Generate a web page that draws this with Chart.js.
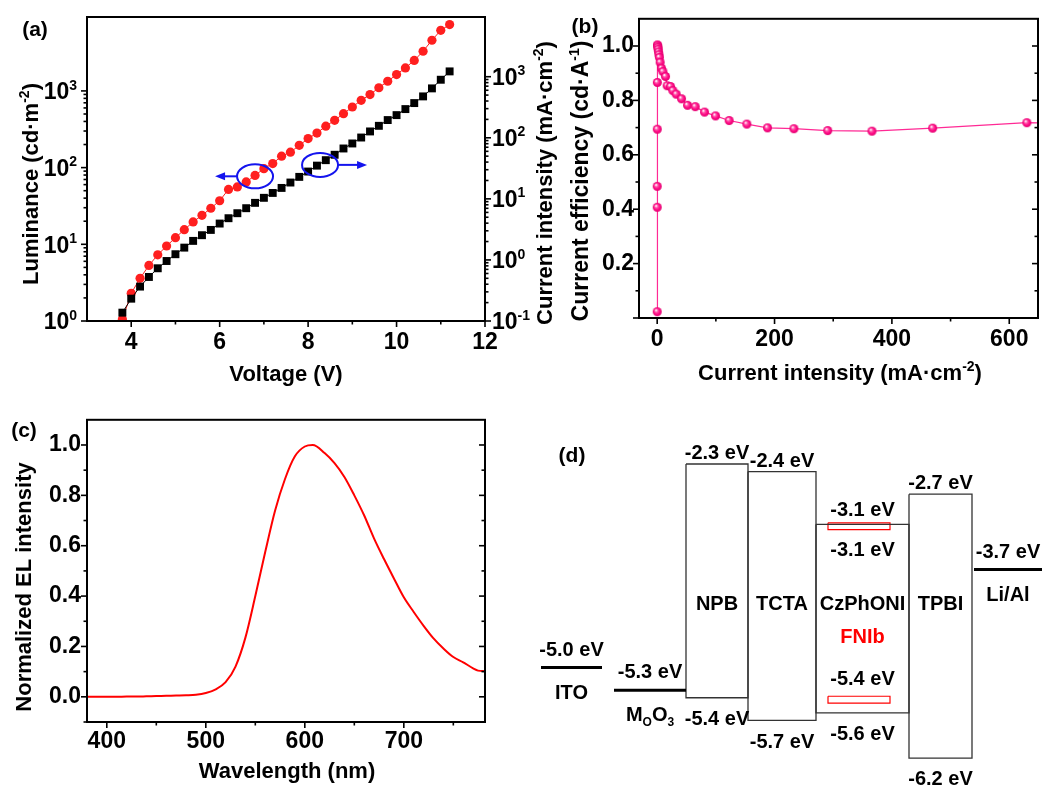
<!DOCTYPE html>
<html lang="en">
<head>
<meta charset="UTF-8">
<title>Device characteristics</title>
<script src="https://cdn.jsdelivr.net/npm/chart.js"></script>
<style>
  body { margin: 0; background: #fff; }
  #page { position: relative; width: 1042px; height: 787px; overflow: hidden; background: #fff; }
  canvas { position: absolute; }
</style>
</head>
<body>
<div id="page">
  <canvas id="chartA" width="565" height="400" style="left:0;top:0"></canvas>
  <canvas id="chartB" width="482" height="400" style="left:560px;top:0"></canvas>
  <canvas id="chartC" width="520" height="387" style="left:0;top:400px"></canvas>
  <canvas id="chartD" width="522" height="387" style="left:520px;top:400px"></canvas>
</div>
<script>
// (a) luminance / current density vs voltage
const voltage = [3.8, 4.0, 4.2, 4.4, 4.6, 4.8, 5.0, 5.2, 5.4, 5.6, 5.8, 6.0, 6.2, 6.4, 6.6, 6.8, 7.0, 7.2, 7.4,
  7.6, 7.8, 8.0, 8.2, 8.4, 8.6, 8.8, 9.0, 9.2, 9.4, 9.6, 9.8, 10.0, 10.2, 10.4, 10.6, 10.8, 11.0, 11.2];
const luminance = [1.05, 2.3, 3.6, 5.3, 7.3, 9.5, 12.2, 15.5, 19.6, 23.9, 29.5, 37, 52, 56, 65, 79, 97, 113, 141,
  159, 195, 239, 282, 347, 414, 505, 617, 755, 896, 1100, 1336, 1633, 1997, 2500, 3290, 4580, 6170, 7330];
const currentDensity = [0.137, 0.232, 0.366, 0.526, 0.73, 0.96, 1.24, 1.59, 2.05, 2.54, 3.1, 3.94, 4.82, 5.82, 7.03,
  8.6, 10.4, 12.5, 15.1, 18.5, 22.9, 28, 35, 43, 52.7, 66.8, 80.7, 101, 127, 157, 195, 235, 295, 370, 476, 644, 892, 1222];

// (b) current efficiency vs current density
const ceCurrent = [0.02, 0.05, 0.08, 0.15, 0.3, 0.5, 0.8, 1.2, 1.7, 2.3, 3.0, 3.8, 5.1, 7.4, 9.7, 14.2, 17, 22.7,
  26.7, 32.4, 41.5, 51.7, 64.8, 80.7, 99.4, 122.7, 152.8, 188, 233, 290.6, 366, 469.5, 630, 800];
const ceEfficiency = [0.023, 0.407, 0.484, 0.694, 0.866, 1.004, 1.0, 0.995, 0.988, 0.978, 0.968, 0.958, 0.940, 0.918,
  0.906, 0.888, 0.854, 0.851, 0.836, 0.823, 0.806, 0.782, 0.777, 0.757, 0.743, 0.726, 0.713, 0.699, 0.696, 0.689,
  0.687, 0.698, 0.718, 0.715];

// (c) EL spectrum
const wavelength = [380, 390, 400, 410, 420, 430, 440, 450, 460, 470, 480, 490, 500, 510, 520, 530, 540, 550, 560,
  570, 580, 590, 600, 608, 620, 630, 640, 650, 660, 670, 680, 690, 700, 710, 720, 730, 740, 750, 760, 770, 775, 782];
const elIntensity = [0, 0, 0, 0, 0.001, 0.001, 0.002, 0.003, 0.004, 0.005, 0.006, 0.008, 0.015, 0.03, 0.058, 0.12,
  0.235, 0.40, 0.575, 0.74, 0.865, 0.955, 0.994, 1.0, 0.968, 0.928, 0.873, 0.80, 0.72, 0.628, 0.547, 0.47, 0.395,
  0.337, 0.282, 0.232, 0.192, 0.158, 0.137, 0.113, 0.104, 0.102];

// (d) energy levels (eV)
const layerNames = ['ITO', 'M_{O}O_{3}', 'NPB', 'TCTA', 'CzPhONI', 'TPBI', 'Li/Al'];
const lumoLevels = [-5.0, -5.3, -2.3, -2.4, -3.1, -2.7, -3.7];
const homoLevels = [-5.0, -5.3, -5.4, -5.7, -5.6, -6.2, -3.7];
const dopantName = 'FNIb';
const dopantLevels = [-3.1, -5.4];

// tick values
const xTicksA = [4, 6, 8, 10, 12], xMinorA = [5, 7, 9, 11];
const yTicksAL = [1, 10, 100, 1000];
const yTicksAR = [0.1, 1, 10, 100, 1000];
const xTicksB = [0, 200, 400, 600], xMinorB = [100, 300, 500];
const yTicksB = [0, 0.2, 0.4, 0.6, 0.8, 1.0], yMinorB = [0.1, 0.3, 0.5, 0.7, 0.9];
const xTicksC = [400, 500, 600, 700], xMinorC = [450, 550, 650, 750];
const yTicksC = [0, 0.2, 0.4, 0.6, 0.8, 1.0], yMinorC = [-0.1, 0.1, 0.3, 0.5, 0.7, 0.9];

const FAMILY = "'Liberation Sans', Arial, Helvetica, sans-serif";
Chart.defaults.font.family = FAMILY;
Chart.defaults.font.size = 23;
Chart.defaults.font.weight = 'bold';
Chart.defaults.color = '#000';

function logMinors(lo, hi) {
  const out = [];
  for (let d = lo; d < hi; d *= 10) for (let k = 2; k <= 9; k++) out.push(d * k);
  return out;
}

function parseRich(s) {
  return s.split(/(\^\{[^}]*\}|_\{[^}]*\})/).filter(Boolean).map(t =>
    t.startsWith('^{') ? { t: t.slice(2, -1), sup: true } :
    t.startsWith('_{') ? { t: t.slice(2, -1), sub: true } : { t });
}

// text with super/subscripts, centred vertically on y
function drawRich(ctx, s, x, y, o = {}) {
  const size = o.size || 22, small = Math.round(size * 0.62);
  const parts = parseRich(s);
  ctx.save();
  ctx.translate(x, y);
  ctx.rotate(o.rot || 0);
  ctx.fillStyle = o.color || '#000';
  ctx.textBaseline = 'alphabetic';
  ctx.textAlign = 'left';
  let w = 0;
  parts.forEach(p => {
    ctx.font = `bold ${p.sup || p.sub ? small : size}px ${FAMILY}`;
    p.w = ctx.measureText(p.t).width;
    w += p.w;
  });
  let cx = o.align === 'left' ? 0 : o.align === 'right' ? -w : -w / 2;
  const base = size * 0.36;
  parts.forEach(p => {
    ctx.font = `bold ${p.sup || p.sub ? small : size}px ${FAMILY}`;
    const dy = p.sup ? -size * 0.42 : p.sub ? size * 0.25 : 0;
    ctx.fillText(p.t, cx, base + dy);
    cx += p.w;
  });
  ctx.restore();
}

// frame, tick marks, log labels and free texts
function decor(cfg) {
  return {
    id: 'decor',
    afterDatasetsDraw(chart) {
      const { ctx, chartArea: a } = chart;
      ctx.save();
      ctx.strokeStyle = '#000';
      ctx.lineWidth = 2;
      ctx.strokeRect(a.left, a.top, a.right - a.left, a.bottom - a.top);
      ctx.lineWidth = 1.6;
      (cfg.marks || []).forEach(m => {
        const s = chart.scales[m.scale];
        const sign = m.out ? 1 : -1;
        [[m.major, 6], [m.minor || [], 3.5]].forEach(([vals, len]) => vals.forEach(v => {
          const p = s.getPixelForValue(v);
          ctx.beginPath();
          if (m.side === 'bottom') { ctx.moveTo(p, a.bottom); ctx.lineTo(p, a.bottom + sign * len); }
          if (m.side === 'left') { ctx.moveTo(a.left, p); ctx.lineTo(a.left - sign * len, p); }
          if (m.side === 'right') { ctx.moveTo(a.right, p); ctx.lineTo(a.right + sign * len, p); }
          ctx.stroke();
        }));
      });
      ctx.restore();
      (cfg.logLabels || []).forEach(l => {
        const s = chart.scales[l.scale];
        l.values.forEach(v => {
          const e = Math.round(Math.log10(v));
          const p = s.getPixelForValue(v);
          if (l.side === 'left') drawRich(ctx, '10^{' + e + '}', a.left - 10, p, { size: 23, align: 'right' });
          else drawRich(ctx, '10^{' + e + '}', a.right + 7, p, { size: 23, align: 'left' });
        });
      });
      (cfg.texts || []).forEach(t => drawRich(ctx, t.s, t.x, t.y, t));
    }
  };
}

function linearAxis(o) {
  const ax = {
    type: 'linear', position: o.position, min: o.min, max: o.max,
    ticks: { autoSkip: false, maxRotation: 0, padding: o.pad },
    grid: { display: false, drawTicks: false },
    border: { display: false },
    afterBuildTicks: s => { s.ticks = o.ticks.map(v => ({ value: v })); },
    afterFit: s => { if (s.isHorizontal()) s.height = o.size; else s.width = o.size; }
  };
  if (o.fmt) ax.ticks.callback = o.fmt;
  return ax;
}

// shaded ball marker used in panel (b)
function sphere(r) {
  const c = document.createElement('canvas');
  const d = Math.ceil(2 * r + 2);
  c.width = c.height = d;
  const g = c.getContext('2d');
  const m = d / 2;
  const grad = g.createRadialGradient(m - r * 0.3, m - r * 0.35, r * 0.08, m, m, r);
  grad.addColorStop(0, '#ffffff');
  grad.addColorStop(0.3, '#ff55aa');
  grad.addColorStop(0.65, '#ff0a85');
  grad.addColorStop(1, '#e0006f');
  g.fillStyle = grad;
  g.beginPath();
  g.arc(m, m, r, 0, Math.PI * 2);
  g.fill();
  return c;
}

const common = {
  responsive: false,
  animation: false,
  events: [],
  devicePixelRatio: 1,
  plugins: { legend: { display: false }, tooltip: { enabled: false } }
};

// ---------- (a) ----------
const callouts = [
  { x: 6.8, y: 77, axis: 'yL', dir: -1, len: 22 },
  { x: 8.27, y: 36, axis: 'yR', dir: 1, len: 29 }
];
const calloutPlugin = {
  id: 'callouts',
  afterDatasetsDraw(chart) {
    const { ctx, scales } = chart;
    ctx.save();
    ctx.strokeStyle = ctx.fillStyle = '#1414ee';
    ctx.lineWidth = 2;
    callouts.forEach(c => {
      const cx = scales.x.getPixelForValue(c.x), cy = scales[c.axis].getPixelForValue(c.y);
      ctx.beginPath();
      ctx.ellipse(cx, cy, 18, 12, 0, 0, Math.PI * 2);
      ctx.stroke();
      const x0 = cx + c.dir * 18, x1 = cx + c.dir * (18 + c.len);
      ctx.beginPath();
      ctx.moveTo(x0, cy);
      ctx.lineTo(x1 - c.dir * 6, cy);
      ctx.stroke();
      ctx.beginPath();
      ctx.moveTo(x1, cy);
      ctx.lineTo(x1 - c.dir * 10, cy - 4);
      ctx.lineTo(x1 - c.dir * 10, cy + 4);
      ctx.closePath();
      ctx.fill();
    });
    ctx.restore();
  }
};

new Chart(document.getElementById('chartA'), {
  type: 'line',
  data: {
    datasets: [
      {
        label: 'Current intensity',
        data: voltage.map((v, i) => ({ x: v, y: currentDensity[i] })),
        yAxisID: 'yR',
        borderColor: '#000', borderWidth: 1,
        pointStyle: 'rect', pointRadius: 5.6, pointBackgroundColor: '#000', pointBorderWidth: 0
      },
      {
        label: 'Luminance',
        data: voltage.map((v, i) => ({ x: v, y: luminance[i] })),
        yAxisID: 'yL',
        borderColor: '#ff1f1f', borderWidth: 1,
        pointStyle: 'circle', pointRadius: 4.6, pointBackgroundColor: '#ff1f1f', pointBorderWidth: 0
      }
    ]
  },
  options: {
    ...common,
    layout: { autoPadding: false, padding: { top: 17, left: 0, right: 0, bottom: 0 } },
    scales: {
      x: linearAxis({ min: 3, max: 12, ticks: xTicksA, size: 79, pad: 8 }),
      yL: {
        type: 'logarithmic', position: 'left', min: 1, max: 9200,
        ticks: { display: false }, grid: { display: false }, border: { display: false },
        afterFit: s => { s.width = 87; }
      },
      yR: {
        type: 'logarithmic', position: 'right', min: 0.1, max: 9500,
        ticks: { display: false }, grid: { display: false }, border: { display: false },
        afterFit: s => { s.width = 80; }
      }
    }
  },
  plugins: [calloutPlugin, decor({
    marks: [
      { scale: 'x', side: 'bottom', out: true, major: xTicksA, minor: xMinorA },
      { scale: 'yL', side: 'left', out: true, major: yTicksAL, minor: logMinors(1, 1000) },
      { scale: 'yR', side: 'right', out: true, major: yTicksAR, minor: logMinors(0.1, 1000) }
    ],
    logLabels: [
      { scale: 'yL', side: 'left', values: yTicksAL },
      { scale: 'yR', side: 'right', values: yTicksAR }
    ],
    texts: [
      { s: '(a)', x: 35, y: 28, size: 21 },
      { s: 'Voltage (V)', x: 286, y: 373 },
      { s: 'Luminance (cd·m^{-2})', x: 30, y: 184, rot: -Math.PI / 2 },
      { s: 'Current intensity (mA·cm^{-2})', x: 544, y: 183, rot: -Math.PI / 2 }
    ]
  })]
});

// ---------- (b) ----------
new Chart(document.getElementById('chartB'), {
  type: 'line',
  data: {
    datasets: [{
      label: 'Current efficiency',
      data: ceCurrent.map((c, i) => ({ x: c, y: ceEfficiency[i] })),
      borderColor: '#ff2a95', borderWidth: 1.2,
      pointStyle: sphere(4.5), pointRadius: 4.5
    }]
  },
  options: {
    ...common,
    layout: { autoPadding: false, padding: { top: 16, left: 0, right: 4, bottom: 0 } },
    scales: {
      x: linearAxis({ min: -31, max: 649, ticks: xTicksB, size: 82, pad: 8 }),
      y: linearAxis({ min: 0, max: 1.1, ticks: yTicksB, size: 79, pad: 5, fmt: v => (v === 0 ? '' : v.toFixed(1)) })
    }
  },
  plugins: [decor({
    marks: [
      { scale: 'x', side: 'bottom', out: true, major: xTicksB, minor: xMinorB },
      { scale: 'y', side: 'left', out: true, major: yTicksB, minor: yMinorB },
      { scale: 'y', side: 'right', out: false, major: yTicksB, minor: yMinorB }
    ],
    texts: [
      { s: '(b)', x: 25, y: 25, size: 21 },
      { s: 'Current intensity (mA·cm^{-2})', x: 280, y: 372 },
      { s: 'Current efficiency (cd·A^{-1})', x: 20, y: 181, rot: -Math.PI / 2, size: 23 }
    ]
  })]
});

// ---------- (c) ----------
new Chart(document.getElementById('chartC'), {
  type: 'line',
  data: {
    datasets: [{
      label: 'EL',
      data: wavelength.map((w, i) => ({ x: w, y: elIntensity[i] })),
      borderColor: '#ff0000', borderWidth: 2, pointRadius: 0,
      cubicInterpolationMode: 'monotone'
    }]
  },
  options: {
    ...common,
    layout: { autoPadding: false, padding: { top: 19, left: 0, right: 35, bottom: 0 } },
    scales: {
      x: linearAxis({ min: 380, max: 782, ticks: xTicksC, size: 65, pad: 6 }),
      y: linearAxis({ min: -0.1, max: 1.1, ticks: yTicksC, size: 87, pad: 6, fmt: v => v.toFixed(1) })
    }
  },
  plugins: [decor({
    marks: [
      { scale: 'x', side: 'bottom', out: true, major: xTicksC, minor: xMinorC },
      { scale: 'y', side: 'left', out: true, major: yTicksC, minor: yMinorC },
      { scale: 'y', side: 'right', out: false, major: yTicksC, minor: yMinorC }
    ],
    texts: [
      { s: '(c)', x: 24, y: 29, size: 21 },
      { s: 'Wavelength (nm)', x: 287, y: 370 },
      { s: 'Normalized EL intensity', x: 23, y: 187, rot: -Math.PI / 2 }
    ]
  })]
});

// ---------- (d) ----------
// horizontal extent of each layer in the diagram (canvas px)
const layerSpan = [[21, 82], [94, 166], [166, 228], [228, 296], [296, 389], [389, 452], [454, 522]];
const dopantSpan = [308, 370];
const hostIndex = 4;

const levelDatasets = layerNames.map((name, i) => {
  const [x0, x1] = layerSpan[i];
  const lu = lumoLevels[i], ho = homoLevels[i];
  const single = lu === ho;
  return {
    label: name,
    data: single
      ? [{ x: x0, y: lu }, { x: x1, y: lu }]
      : [{ x: x0, y: lu }, { x: x1, y: lu }, { x: x1, y: ho }, { x: x0, y: ho }, { x: x0, y: lu }],
    borderColor: single ? '#000' : '#333',
    borderWidth: single ? 3 : 1.3,
    pointRadius: 0,
    clip: false
  };
});
const dopantDatasets = dopantLevels.map(e => {
  const [x0, x1] = dopantSpan;
  return {
    label: dopantName,
    data: [{ x: x0, y: e + 0.02 }, { x: x1, y: e + 0.02 }, { x: x1, y: e - 0.07 }, { x: x0, y: e - 0.07 }, { x: x0, y: e + 0.02 }],
    borderColor: '#ff0000', borderWidth: 1.2, pointRadius: 0, clip: false
  };
});

const levelLabels = {
  id: 'levelLabels',
  afterDatasetsDraw(chart) {
    const { ctx, scales } = chart;
    const ev = v => v.toFixed(1) + ' eV';
    const o = { size: 20 };
    layerNames.forEach((name, i) => {
      const cx = scales.x.getPixelForValue((layerSpan[i][0] + layerSpan[i][1]) / 2);
      const lu = lumoLevels[i], ho = homoLevels[i];
      const yl = scales.y.getPixelForValue(lu), yh = scales.y.getPixelForValue(ho);
      if (lu === ho) {
        drawRich(ctx, ev(lu), cx, yl - 19, o);
        drawRich(ctx, name, cx, yl + 24, o);
        return;
      }
      if (i === hostIndex) {
        drawRich(ctx, ev(lu), cx, yl + 24, o);
        drawRich(ctx, ev(dopantLevels[0]), cx, scales.y.getPixelForValue(dopantLevels[0]) - 16, o);
        drawRich(ctx, ev(dopantLevels[1]), cx, scales.y.getPixelForValue(dopantLevels[1]) - 20, o);
        drawRich(ctx, dopantName, cx, 236, { size: 20, color: '#ff0000' });
      } else {
        drawRich(ctx, ev(lu), cx, yl - 12, o);
      }
      drawRich(ctx, ev(ho), cx, yh + 20, o);
      drawRich(ctx, name, cx, 203, o);
    });
    drawRich(ctx, '(d)', 52, 54, { size: 21 });
  }
};

new Chart(document.getElementById('chartD'), {
  type: 'line',
  data: { datasets: [...levelDatasets, ...dopantDatasets] },
  options: {
    ...common,
    layout: { autoPadding: false, padding: { top: 41.4, left: 0, right: 0, bottom: 6.3 } },
    scales: {
      x: { type: 'linear', display: false, min: 0, max: 522 },
      y: { type: 'linear', display: false, min: -6.5, max: -2.0 }
    }
  },
  plugins: [levelLabels]
});
</script>
</body>
</html>
